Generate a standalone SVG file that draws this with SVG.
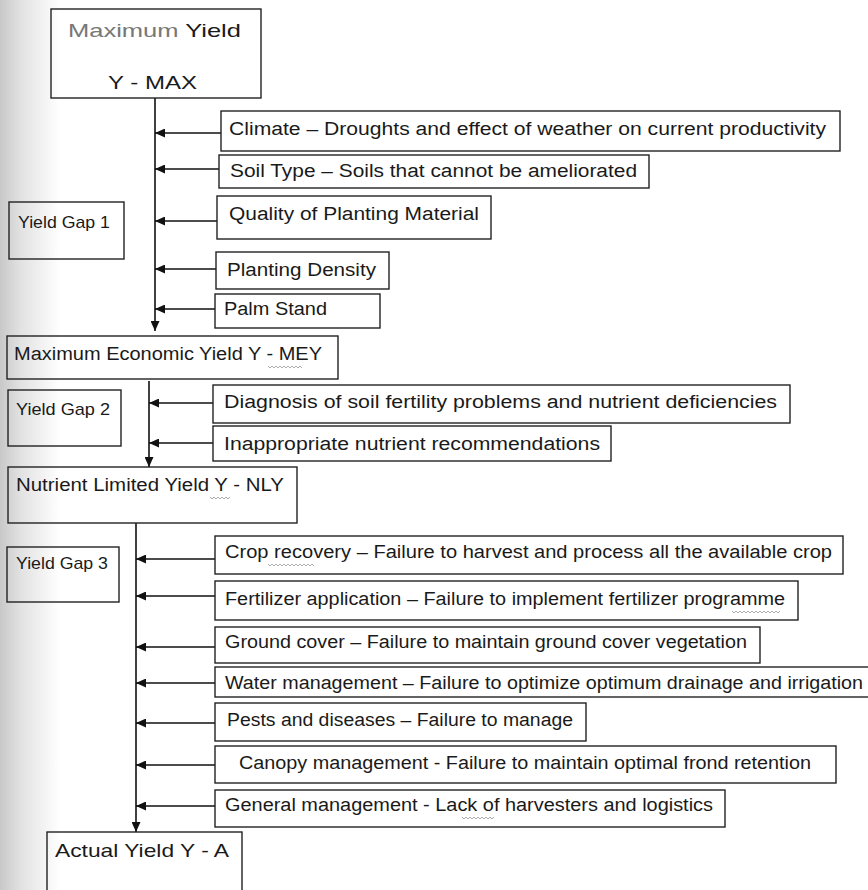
<svg xmlns="http://www.w3.org/2000/svg" width="868" height="890" viewBox="0 0 868 890">
<defs>
<linearGradient id="shade" x1="0" y1="0" x2="1" y2="0">
<stop offset="0" stop-color="#c8c8c8"/>
<stop offset="0.35" stop-color="#e2e2e2"/>
<stop offset="1" stop-color="#ffffff"/>
</linearGradient>
<marker id="ah" viewBox="0 0 10 9" refX="10" refY="4.5" markerWidth="10" markerHeight="9" markerUnits="userSpaceOnUse" orient="auto">
<path d="M0,0 L10,4.5 L0,9 z" fill="#111"/>
</marker>
<style>
.box{fill:none;stroke:#222;stroke-width:1.4}
.t{font-family:"Liberation Sans",Arial,sans-serif;font-size:18px;fill:#1a1a1a}
.sm{font-size:17px}
.lg{font-size:19px}
.c{fill:none;stroke:#111;stroke-width:1.6}
.a{fill:none;stroke:#111;stroke-width:1.6;marker-end:url(#ah)}
.sq{fill:none;stroke:#999;stroke-width:0.8}
</style>
</defs>
<rect x="0" y="0" width="868" height="890" fill="#ffffff"/>
<rect x="0" y="0" width="60" height="890" fill="url(#shade)"/>

<g id="connectors">
<path class="a" d="M155,98 V331"/>
<path class="a" d="M221,133 H155"/>
<path class="a" d="M219,169 H155"/>
<path class="a" d="M217,221 H155"/>
<path class="a" d="M216,269 H155"/>
<path class="a" d="M215,309 H155"/>
<path class="a" d="M149,381 V467"/>
<path class="a" d="M213,403 H149"/>
<path class="a" d="M213,443 H149"/>
<path class="a" d="M136,523 V832"/>
<path class="a" d="M215,559 H136"/>
<path class="a" d="M215,596 H136"/>
<path class="a" d="M215,647 H136"/>
<path class="a" d="M215,683 H136"/>
<path class="a" d="M215,723 H136"/>
<path class="a" d="M215,765 H136"/>
<path class="a" d="M215,806 H136"/>
</g>

<g id="ymax">
<rect class="box" x="51" y="9" width="210" height="89"/>
<text class="t lg" x="68" y="37" textLength="173" lengthAdjust="spacingAndGlyphs"><tspan fill="#777">Maximum</tspan> Yield</text>
<text class="t lg" x="108" y="89" textLength="89" lengthAdjust="spacingAndGlyphs">Y - MAX</text>
</g>
<g id="climate">
<rect class="box" x="221" y="111" width="619" height="40"/>
<text class="t" x="229" y="135" textLength="597" lengthAdjust="spacingAndGlyphs">Climate – Droughts and effect of weather on current productivity</text>
</g>
<g id="soil">
<rect class="box" x="219" y="155" width="430" height="33"/>
<text class="t" x="230" y="177" textLength="407" lengthAdjust="spacingAndGlyphs">Soil Type  – Soils that cannot be ameliorated</text>
</g>
<g id="quality">
<rect class="box" x="217" y="196" width="274" height="43"/>
<text class="t" x="229" y="220" textLength="250" lengthAdjust="spacingAndGlyphs">Quality of Planting Material</text>
</g>
<g id="gap1">
<rect class="box" x="9" y="202" width="115" height="57"/>
<text class="t sm" x="18" y="228" textLength="92" lengthAdjust="spacingAndGlyphs">Yield Gap 1</text>
</g>
<g id="density">
<rect class="box" x="216" y="252" width="173" height="37"/>
<text class="t" x="227" y="276" textLength="149" lengthAdjust="spacingAndGlyphs">Planting Density</text>
</g>
<g id="palm">
<rect class="box" x="215" y="294" width="165" height="34"/>
<text class="t" x="224" y="315" textLength="103" lengthAdjust="spacingAndGlyphs">Palm Stand</text>
</g>

<g id="mey">
<rect class="box" x="7" y="336" width="331" height="43"/>
<text class="t" x="14" y="360" textLength="308" lengthAdjust="spacingAndGlyphs">Maximum Economic Yield Y - MEY</text>
<path class="sq" d="M268,366 l2,2 l2,-2 l2,2 l2,-2 l2,2 l2,-2 l2,2 l2,-2 l2,2 l2,-2 l2,2 l2,-2 l2,2 l2,-2 l2,2 l2,-2 l2,2"/>
</g>
<g id="gap2">
<rect class="box" x="8" y="390" width="113" height="56"/>
<text class="t sm" x="16" y="415" textLength="94" lengthAdjust="spacingAndGlyphs">Yield Gap 2</text>
</g>
<g id="diagnosis">
<rect class="box" x="213" y="385" width="577" height="38"/>
<text class="t" x="224" y="408" textLength="553" lengthAdjust="spacingAndGlyphs">Diagnosis of soil fertility problems and nutrient deficiencies</text>
</g>
<g id="inappropriate">
<rect class="box" x="213" y="426" width="398" height="35"/>
<text class="t" x="224" y="450" textLength="376" lengthAdjust="spacingAndGlyphs">Inappropriate nutrient recommendations</text>
</g>
<g id="nly">
<rect class="box" x="8" y="467" width="289" height="56"/>
<text class="t" x="16" y="491" textLength="268" lengthAdjust="spacingAndGlyphs">Nutrient Limited Yield Y - NLY</text>
<path class="sq" d="M210,497 l2,2 l2,-2 l2,2 l2,-2 l2,2 l2,-2 l2,2 l2,-2 l2,2 l2,-2"/>
</g>

<g id="gap3">
<rect class="box" x="7" y="547" width="112" height="55"/>
<text class="t sm" x="16" y="569" textLength="92" lengthAdjust="spacingAndGlyphs">Yield Gap 3</text>
</g>
<g id="crop">
<rect class="box" x="215" y="536" width="628" height="38"/>
<text class="t" x="225" y="558" textLength="607" lengthAdjust="spacingAndGlyphs">Crop recovery  –  Failure to harvest and process all the available crop</text>
<path class="sq" d="M268,564 l2,2 l2,-2 l2,2 l2,-2 l2,2 l2,-2 l2,2 l2,-2 l2,2 l2,-2 l2,2 l2,-2 l2,2 l2,-2 l2,2 l2,-2 l2,2 l2,-2 l2,2 l2,-2 l2,2 l2,-2 l2,2"/>
</g>
<g id="fertilizer">
<rect class="box" x="215" y="581" width="583" height="39"/>
<text class="t" x="225" y="605" textLength="560" lengthAdjust="spacingAndGlyphs">Fertilizer application – Failure to implement fertilizer programme</text>
<path class="sq" d="M732,611 l2,2 l2,-2 l2,2 l2,-2 l2,2 l2,-2 l2,2 l2,-2 l2,2 l2,-2 l2,2 l2,-2 l2,2 l2,-2 l2,2 l2,-2 l2,2 l2,-2 l2,2 l2,-2 l2,2 l2,-2 l2,2 l2,-2"/>
</g>
<g id="ground">
<rect class="box" x="215" y="627" width="545" height="36"/>
<text class="t" x="225" y="648" textLength="522" lengthAdjust="spacingAndGlyphs">Ground cover – Failure to maintain ground cover vegetation</text>
</g>
<g id="water">
<rect class="box" x="215" y="667" width="660" height="30"/>
<text class="t" x="225" y="689" textLength="638" lengthAdjust="spacingAndGlyphs">Water management – Failure to optimize optimum drainage and irrigation</text>
</g>
<g id="pests">
<rect class="box" x="215" y="703" width="371" height="38"/>
<text class="t" x="227" y="726" textLength="346" lengthAdjust="spacingAndGlyphs">Pests and diseases – Failure to manage</text>
</g>
<g id="canopy">
<rect class="box" x="215" y="746" width="621" height="37"/>
<text class="t" x="239" y="769" textLength="572" lengthAdjust="spacingAndGlyphs">Canopy management - Failure to maintain optimal frond retention</text>
</g>
<g id="general">
<rect class="box" x="215" y="790" width="510" height="37"/>
<text class="t" x="225" y="811" textLength="488" lengthAdjust="spacingAndGlyphs">General management -  Lack of harvesters and logistics</text>
<path class="sq" d="M462,817 l2,2 l2,-2 l2,2 l2,-2 l2,2 l2,-2 l2,2 l2,-2 l2,2 l2,-2 l2,2 l2,-2 l2,2 l2,-2 l2,2 l2,-2"/>
</g>
<g id="actual">
<rect class="box" x="47" y="832" width="195" height="70"/>
<text class="t lg" x="55" y="857" textLength="174" lengthAdjust="spacingAndGlyphs">Actual Yield Y - A</text>
</g>
</svg>
